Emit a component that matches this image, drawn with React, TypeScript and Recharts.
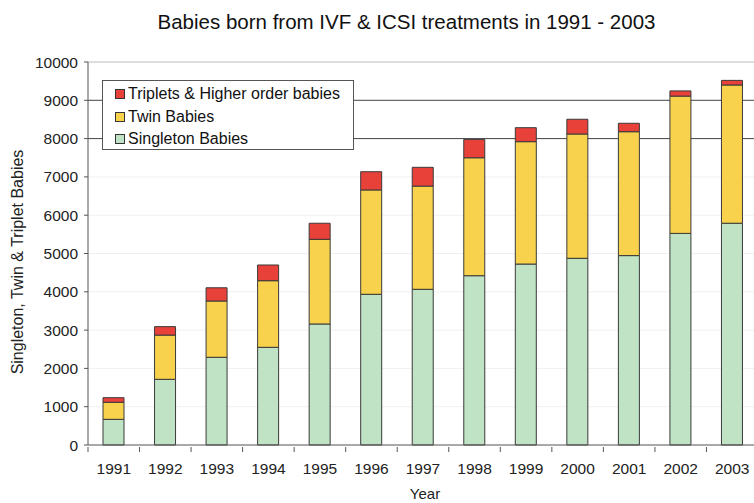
import React from 'react';
import { BarChart, Bar, XAxis, YAxis, CartesianGrid, Label } from 'recharts';

const years = ['1991', '1992', '1993', '1994', '1995', '1996', '1997', '1998', '1999', '2000', '2001', '2002', '2003'];
const singleton = [670, 1715, 2290, 2550, 3160, 3935, 4065, 4420, 4725, 4875, 4945, 5525, 5790];
const twins = [445, 1155, 1470, 1740, 2210, 2725, 2695, 3080, 3195, 3245, 3235, 3585, 3610];
const triplets = [120, 220, 345, 410, 420, 475, 490, 480, 365, 385, 220, 135, 120];
const yTicks = [0, 1000, 2000, 3000, 4000, 5000, 6000, 7000, 8000, 9000, 10000];

const series = [
  { key: 'singleton', name: 'Singleton Babies', color: '#bfe3c4' },
  { key: 'twins', name: 'Twin Babies', color: '#f8d24c' },
  { key: 'triplets', name: 'Triplets & Higher order babies', color: '#e8413a' },
];

const data = years.map((year, i) => ({
  year,
  singleton: singleton[i],
  twins: twins[i],
  triplets: triplets[i],
}));

const font = '"Liberation Sans", Arial, Helvetica, sans-serif';
const CHART_W = 800;
const PLOT_W = 670;
const BAND = PLOT_W / years.length;

// category label in the middle of the band, tick mark on the band's left edge
const YearTick = (props: any) => {
  const { x, y, payload } = props;
  const edge = x - BAND / 2;
  return (
    <g>
      <line x1={edge} y1={y - 8} x2={edge} y2={y - 3} stroke="#555" />
      <text x={x} y={y + 8} dy="0.71em" textAnchor="middle" fontSize={15.5} fill="#222">
        {payload.value}
      </text>
    </g>
  );
};

const LegendBox = () => (
  <div
    style={{
      position: 'absolute',
      left: 94,
      top: 72,
      width: 250,
      height: 66,
      border: '1px solid #555',
      background: '#fff',
      paddingTop: 2,
      fontSize: 16,
      color: '#111',
      zIndex: 2,
    }}
  >
    {[...series].reverse().map((s) => (
      <div key={s.key} style={{ display: 'flex', alignItems: 'center', height: 22.5, paddingLeft: 12 }}>
        <span
          style={{
            display: 'inline-block',
            width: 8,
            height: 8,
            background: s.color,
            border: '1px solid #333',
            marginRight: 3,
          }}
        />
        <span>{s.name}</span>
      </div>
    ))}
  </div>
);

export default function App() {
  return (
    <div style={{ width: 754, height: 503, overflow: 'hidden', background: '#fff' }}>
      <style>{'html,body{margin:0;overflow:hidden}'}</style>
      <div style={{ position: 'relative', left: 8, top: 8, width: CHART_W, height: 495, fontFamily: font }}>
        <div
          style={{
            position: 'absolute',
            top: 2,
            left: 0,
            width: 797,
            textAlign: 'center',
            fontSize: 20.5,
            color: '#111',
          }}
        >
          Babies born from IVF &amp; ICSI treatments in 1991 - 2003
        </div>
        <LegendBox />
        <BarChart
          width={CHART_W}
          height={495}
          data={data}
          margin={{ top: 54, right: CHART_W - 80 - PLOT_W, left: 0, bottom: 1 }}
        >
          <CartesianGrid vertical={false} stroke="#f0f0f0" horizontalValues={[1000, 2000, 3000, 4000, 5000, 6000, 7000]} />
          <CartesianGrid vertical={false} stroke="#444" horizontalValues={[8000, 9000]} />
          <CartesianGrid vertical={false} stroke="#bbb" horizontalValues={[10000]} />
          <XAxis
            dataKey="year"
            stroke="#555"
            tickLine={false}
            height={57}
            tickSize={8}
            tick={<YearTick />}
            interval={0}
          >
            <Label
              content={() => (
                <text x={417} y={491} textAnchor="middle" fontSize={15} fill="#222">
                  Year
                </text>
              )}
            />
          </XAxis>
          <YAxis
            domain={[0, 10000]}
            ticks={yTicks}
            interval={0}
            width={80}
            stroke="#555"
            tickSize={4}
            tickMargin={6}
            tick={{ fill: '#222', fontSize: 15.5 }}
          >
            <Label
              content={() => (
                <text x={15} y={254} transform="rotate(-90 15 254)" textAnchor="middle" fontSize={16} fill="#222">
                  Singleton, Twin &amp; Triplet Babies
                </text>
              )}
            />
          </YAxis>
          {series.map((s) => (
            <Bar
              key={s.key}
              dataKey={s.key}
              name={s.name}
              stackId="a"
              fill={s.color}
              stroke="#3a3a3a"
              strokeWidth={1}
              barSize={21}
              isAnimationActive={false}
            />
          ))}
        </BarChart>
      </div>
    </div>
  );
}
